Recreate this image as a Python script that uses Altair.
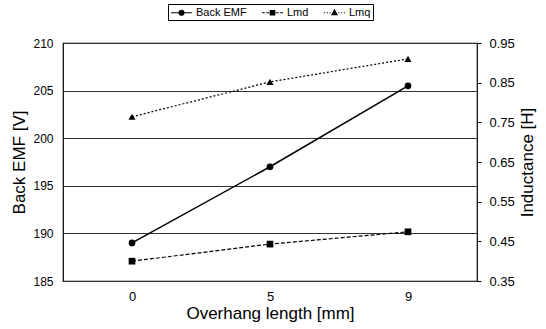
import altair as alt
import pandas as pd

overhang = ["0", "5", "9"]
back_emf = [189.0, 197.0, 205.5]
lmd = [0.400, 0.443, 0.474]
lmq = [0.764, 0.852, 0.910]

series_names = ["Back EMF", "Lmd", "Lmq"]

rows = []
for i, x in enumerate(overhang):
    rows.append({"x": x, "series": "Back EMF", "v": back_emf[i]})
    rows.append({"x": x, "series": "Lmd", "v": lmd[i]})
    rows.append({"x": x, "series": "Lmq", "v": lmq[i]})
df = pd.DataFrame(rows)

FONT = "Liberation Sans"

# legend symbols: line segment + stroked (solid-looking) marker, unit = symbol radius
sym_emf = ("M-1.9,0L1.9,0"
           "M-0.45,0A0.45,0.45,0,1,1,0.45,0A0.45,0.45,0,1,1,-0.45,0"
           "M-0.21,-0.4L0.21,-0.4M-0.4,-0.2L0.4,-0.2M-0.4,0.2L0.4,0.2M-0.21,0.4L0.21,0.4")
sym_lmd = ("M-1.9,0L-1.4,0M-1.1,0L-0.6,0M0.6,0L1.1,0M1.4,0L1.9,0"
           "M-0.4,-0.4L0.4,-0.4L0.4,0.4L-0.4,0.4Z"
           "M-0.4,-0.2L0.4,-0.2M-0.4,0L0.4,0M-0.4,0.2L0.4,0.2")
sym_lmq = ("M-1.9,0L-1.7,0M-1.4,0L-1.2,0M-0.9,0L-0.7,0M0.7,0L0.9,0M1.2,0L1.4,0M1.7,0L1.9,0"
           "M0,-0.5L0.45,0.35L-0.45,0.35Z"
           "M-0.11,-0.3L0.11,-0.3M-0.21,-0.1L0.21,-0.1M-0.32,0.1L0.32,0.1M-0.42,0.3L0.42,0.3")

xenc = alt.X("x:N", sort=overhang, scale=alt.Scale(paddingInner=0, paddingOuter=0),
             axis=alt.Axis(title="Overhang length [mm]", labelAngle=0, labelFontSize=13,
                           titleFontSize=17, titleFontWeight="normal", ticks=False,
                           domain=False, labelPadding=9, titlePadding=2,
                           labelColor="black", titleColor="black", labelFont=FONT, titleFont=FONT))

shape_scale = alt.Scale(domain=series_names, range=[sym_emf, sym_lmd, sym_lmq])
shape_enc = alt.Shape("series:N", scale=shape_scale,
                      legend=alt.Legend(title=None, orient="none", legendX=105, legendY=-39,
                                        direction="horizontal", strokeColor="black",
                                        padding=2, labelFontSize=11, labelFont=FONT,
                                        labelColor="black",
                                        symbolStrokeColor="black", symbolSize=121,
                                        symbolStrokeWidth=1.2, symbolOpacity=1,
                                        symbolOffset=5, labelOffset=8,
                                        columnPadding=12))

yleft = alt.Y("v:Q", scale=alt.Scale(domain=[185, 210], nice=False, zero=False),
              axis=alt.Axis(title="Back EMF [V]", values=[185, 190, 195, 200, 205, 210],
                            grid=True, gridColor="#333333", gridWidth=1, ticks=False, domain=False,
                            labelFontSize=12, titleFontSize=17, titleFontWeight="normal",
                            labelPadding=10, titlePadding=4, labelColor="black",
                            titleColor="black", labelFont=FONT, titleFont=FONT))
yright = alt.Y("v:Q", scale=alt.Scale(domain=[0.35, 0.95], nice=False, zero=False),
               axis=alt.Axis(title="Inductance [H]", orient="right",
                             values=[0.35, 0.45, 0.55, 0.65, 0.75, 0.85, 0.95], format=".2f",
                             grid=False, ticks=True, tickSize=4, tickColor="black", domain=False,
                             labelFontSize=13, titleFontSize=17, titleFontWeight="normal",
                             labelPadding=8, titlePadding=22, titleAngle=270,
                             labelColor="black", titleColor="black", labelFont=FONT, titleFont=FONT))

base = alt.Chart(df)
emf = base.transform_filter(alt.datum.series == "Back EMF")
lmd_d = base.transform_filter(alt.datum.series == "Lmd")
lmq_d = base.transform_filter(alt.datum.series == "Lmq")

left = alt.layer(
    emf.mark_line(color="black", strokeWidth=1.5).encode(x=xenc, y=yleft),
    emf.mark_point(filled=True, color="black", size=45, opacity=1, shape="circle").encode(x=xenc, y=yleft),
    # invisible layer that only carries the legend
    emf.mark_point(opacity=0).encode(x=xenc, y=yleft, shape=shape_enc),
)

right = alt.layer(
    lmd_d.mark_line(color="black", strokeWidth=1.2, strokeDash=[4, 2]).encode(x=xenc, y=yright),
    lmq_d.mark_line(color="black", strokeWidth=1.2, strokeDash=[2, 2]).encode(x=xenc, y=yright),
    lmd_d.mark_point(filled=True, color="black", size=45, opacity=1, shape="square").encode(x=xenc, y=yright),
    lmq_d.mark_point(filled=True, color="black", size=50, opacity=1, shape="triangle-up").encode(x=xenc, y=yright),
)

chart = alt.layer(left, right).resolve_scale(y="independent").properties(
    width=414, height=238,
    autosize=alt.AutoSizeParams(type="none"),
    padding={"left": 63, "top": 43, "right": 69, "bottom": 48},
    background="white",
).configure_view(stroke="black", strokeWidth=1.2)

chart.save("out.html", embed_options={"renderer": "svg", "actions": False})
